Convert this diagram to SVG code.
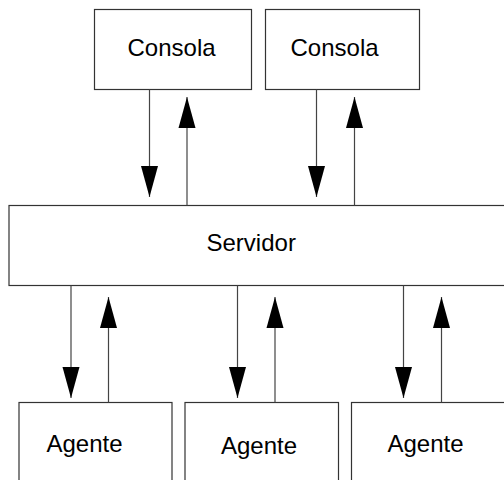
<svg xmlns="http://www.w3.org/2000/svg" width="504" height="480" viewBox="0 0 504 480">
<style>
.box{fill:#fff;stroke:#333;stroke-width:1.2}
.lbl{font-family:"Liberation Sans",Arial,sans-serif;font-size:24px;fill:#000}
.ln{stroke:#444;stroke-width:1.2;fill:none;marker-end:url(#ah)}
</style>
<defs>
<marker id="ah" markerUnits="userSpaceOnUse" markerWidth="32" markerHeight="20" refX="31" refY="9" orient="auto" viewBox="0 0 32 18">
<polygon points="0,0.5 31,9 0,17.5" fill="#000"/>
</marker>
</defs>
<rect width="504" height="480" fill="#fff"/>
<g id="consola1"><rect class="box" x="94.5" y="9.5" width="157" height="80"/><text class="lbl" x="127.5" y="56">Consola</text></g>
<g id="consola2"><rect class="box" x="265.5" y="9.5" width="154" height="80"/><text class="lbl" x="290.5" y="56">Consola</text></g>
<g id="servidor"><rect class="box" x="9" y="205.5" width="510" height="80"/><text class="lbl" x="206.5" y="250.5">Servidor</text></g>
<g id="agente1"><rect class="box" x="19" y="402.5" width="153" height="100"/><text class="lbl" x="46.5" y="452">Agente</text></g>
<g id="agente2"><rect class="box" x="185" y="402.5" width="153.5" height="100"/><text class="lbl" x="221" y="454">Agente</text></g>
<g id="agente3"><rect class="box" x="351.5" y="402.5" width="170" height="100"/><text class="lbl" x="387.5" y="452">Agente</text></g>
<g id="connectors">
<line class="ln" x1="149.5" y1="89.5" x2="149.5" y2="197"/>
<line class="ln" x1="187" y1="205.5" x2="187" y2="97"/>
<line class="ln" x1="316.5" y1="89.5" x2="316.5" y2="197"/>
<line class="ln" x1="354.5" y1="205.5" x2="354.5" y2="97"/>
<line class="ln" x1="71" y1="285.5" x2="71" y2="398"/>
<line class="ln" x1="108.5" y1="402.5" x2="108.5" y2="297"/>
<line class="ln" x1="237.5" y1="285.5" x2="237.5" y2="398"/>
<line class="ln" x1="275" y1="402.5" x2="275" y2="297"/>
<line class="ln" x1="403.5" y1="285.5" x2="403.5" y2="398"/>
<line class="ln" x1="441.5" y1="402.5" x2="441.5" y2="297"/>
</g>
</svg>
